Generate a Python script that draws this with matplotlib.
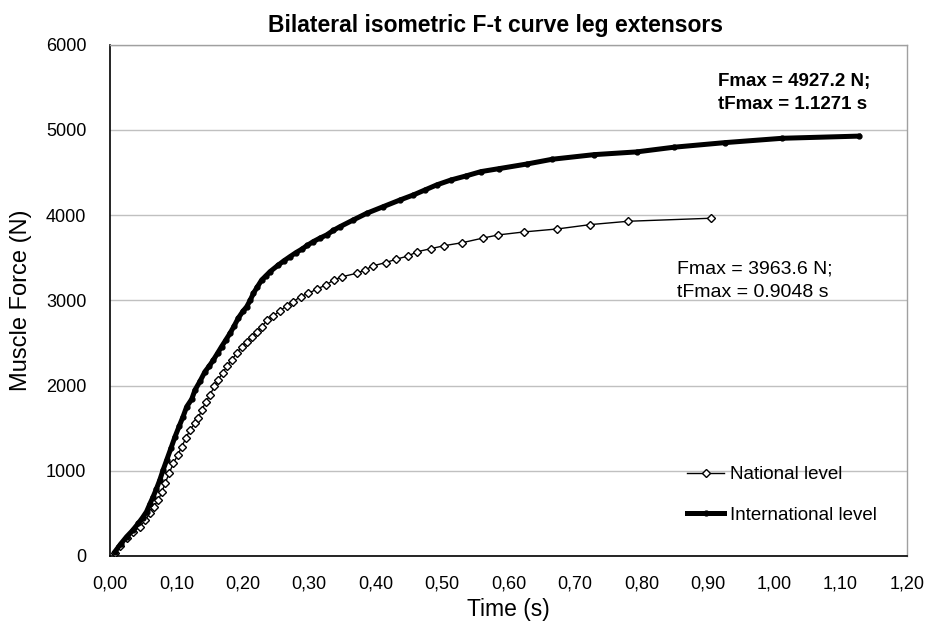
import matplotlib
matplotlib.use("Agg")
import matplotlib.pyplot as plt
from matplotlib.ticker import FuncFormatter

plt.rcParams['font.family'] = ['Liberation Sans', 'DejaVu Sans']

# National level (open diamonds)
nat_t = [0.0075, 0.015, 0.025, 0.035, 0.045, 0.053, 0.060, 0.066, 0.0728, 0.078, 0.083, 0.089,
         0.0954, 0.102, 0.108, 0.114, 0.1205, 0.128, 0.133, 0.138, 0.1446, 0.1506, 0.157, 0.163,
         0.1697, 0.1767, 0.183, 0.1908, 0.1983, 0.2059, 0.2134, 0.221, 0.2284, 0.237, 0.246,
         0.256, 0.266, 0.276, 0.287, 0.2987, 0.311, 0.325, 0.337, 0.350, 0.3715, 0.384, 0.3956,
         0.415, 0.4307, 0.449, 0.4627, 0.4834, 0.5035, 0.5306, 0.5622, 0.5848, 0.6235, 0.6737,
         0.7234, 0.7801, 0.9048]
nat_f = [40, 120, 208, 280, 344, 420, 501, 580, 657, 750, 853, 970,
         1088, 1185, 1283, 1380, 1479, 1560, 1620, 1714, 1811, 1890, 1990, 2070,
         2150, 2235, 2300, 2379, 2457, 2516, 2574, 2633, 2691, 2770, 2817,
         2879, 2934, 2985, 3044, 3083, 3130, 3181, 3239, 3278, 3318, 3357, 3404,
         3443, 3482, 3521, 3571, 3607, 3642, 3677, 3732, 3768, 3803, 3838,
         3889, 3928, 3963.6]

# International level (thick line, small filled markers)
int_t = [0.0075, 0.016, 0.025, 0.034, 0.0427, 0.049, 0.055, 0.060, 0.065, 0.070, 0.075, 0.080,
         0.0854, 0.092, 0.0979, 0.104, 0.110, 0.1155, 0.123, 0.128, 0.1355, 0.143, 0.1495,
         0.1556, 0.162, 0.168, 0.174, 0.1807, 0.187, 0.193, 0.2, 0.2059, 0.211, 0.216, 0.222,
         0.2284, 0.235, 0.241, 0.2535, 0.262, 0.271, 0.28, 0.2887, 0.297, 0.306, 0.316,
         0.3263, 0.336, 0.3464, 0.3664, 0.3866, 0.4116, 0.4367, 0.4568, 0.4744, 0.492,
         0.5136, 0.536, 0.5587, 0.586, 0.6285, 0.666, 0.729, 0.793, 0.849, 0.926, 1.0125, 1.1271]
int_f = [51, 140, 226, 300, 384, 450, 520, 610, 696, 790, 892, 1010,
         1127, 1270, 1400, 1520, 1635, 1752, 1840, 1948, 2050, 2163, 2230,
         2300, 2380, 2457, 2530, 2613, 2700, 2790, 2870, 2926, 3000, 3083, 3160,
         3239, 3290, 3337, 3415, 3465, 3513, 3560, 3600, 3645, 3689, 3730,
         3768, 3820, 3865, 3944, 4022, 4100, 4178, 4237, 4296, 4355,
         4413, 4460, 4511, 4546, 4601, 4656, 4710, 4742, 4797, 4851, 4902, 4927.2]

x_ticks = [0.0, 0.1, 0.2, 0.3, 0.4, 0.5, 0.6, 0.7, 0.8, 0.9, 1.0, 1.1, 1.2]
y_ticks = [0, 1000, 2000, 3000, 4000, 5000, 6000]

W, H = 928, 631
fig = plt.figure(figsize=(W / 100, H / 100), dpi=100)
ax = fig.add_axes([110 / W, 1 - 556 / H, (907 - 110) / W, (556 - 44.7) / H])


def px(x, y):
    return x / W, 1 - y / H


ax.plot(nat_t, nat_f, color='black', lw=1.0, marker='D', markersize=4.5,
        markerfacecolor='white', markeredgecolor='black', markeredgewidth=1.0,
        label='National level', zorder=3)
ax.plot(int_t, int_f, color='black', lw=3.6, marker='o', markersize=3.5,
        markerfacecolor='black', markeredgecolor='black',
        label='International level', zorder=4)

ax.set_xlim(0, 1.2)
ax.set_ylim(0, 6000)
ax.set_xticks(x_ticks)
ax.set_yticks(y_ticks)
ax.xaxis.set_major_formatter(FuncFormatter(lambda v, p: f"{v:.2f}".replace('.', ',')))
ax.yaxis.set_major_formatter(FuncFormatter(lambda v, p: f"{int(v)}"))
ax.tick_params(axis='both', length=0, labelsize=13, colors='black')
ax.tick_params(axis='y', pad=17)
ax.tick_params(axis='x', pad=14)

ax.grid(axis='y', color='#c0c0c0', lw=1.0)
ax.set_axisbelow(True)
for s in ['top', 'right']:
    ax.spines[s].set_color('#a0a0a0')
    ax.spines[s].set_linewidth(1.0)
for s in ['left', 'bottom']:
    ax.spines[s].set_color('black')
    ax.spines[s].set_linewidth(1.2)

fig.text(*px(495, 32), 'Bilateral isometric F-t curve leg extensors', fontsize=16.5,
         fontweight='bold', ha='center', va='baseline')
ax.set_xlabel('Time (s)', fontsize=16.5, labelpad=4)
ax.set_ylabel('Muscle Force (N)', fontsize=17, labelpad=10)

fig.text(*px(718, 86), 'Fmax = 4927.2 N;', fontsize=13.5, fontweight='bold',
         ha='left', va='baseline')
fig.text(*px(718, 109), 'tFmax = 1.1271 s', fontsize=13.5, fontweight='bold',
         ha='left', va='baseline')
fig.text(*px(677, 273), 'Fmax = 3963.6 N;', fontsize=14, ha='left', va='baseline')
fig.text(*px(677, 297), 'tFmax = 0.9048 s', fontsize=14, ha='left', va='baseline')

leg = ax.legend(loc='upper left', bbox_to_anchor=px(687, 466), bbox_transform=fig.transFigure,
                frameon=False, fontsize=13.5, handlelength=2.0, handletextpad=0.28,
                labelspacing=1.25, borderpad=0, borderaxespad=0)

fig.savefig('out.png', dpi=100)
